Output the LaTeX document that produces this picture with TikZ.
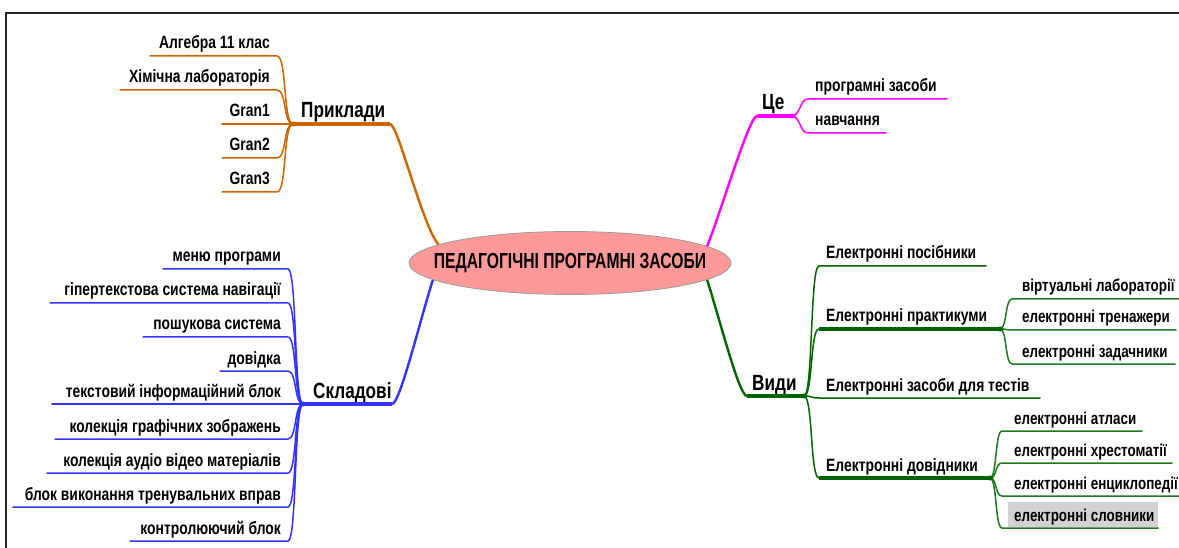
\documentclass[tikz,border=0pt]{standalone}
\usepackage{fontspec}
\setmainfont{Liberation Sans}
\newfontfamily\condf[FakeStretch=0.78]{Liberation Sans}
\newfontfamily\condc[FakeStretch=0.72]{Liberation Sans}
\usetikzlibrary{shapes.geometric}
\newcommand\leaffont{\condf\bfseries\fontsize{17.8}{20}\selectfont}
\newcommand\subleaffont{\condf\bfseries\fontsize{17.2}{20}\selectfont}
\newcommand\hubfont{\condf\bfseries\fontsize{22}{24}\selectfont}
\newcommand\centrefont{\condc\bfseries\fontsize{21.8}{24}\selectfont}
\definecolor{corange}{RGB}{204,102,0}
\definecolor{cblue}{RGB}{51,51,255}
\definecolor{cmag}{RGB}{255,0,255}
\definecolor{cgreen}{RGB}{0,100,0}
\definecolor{cgreenl}{RGB}{30,120,30}
\definecolor{cpink}{RGB}{255,153,153}
\definecolor{cgraybox}{RGB}{210,210,210}
\begin{document}
\begin{tikzpicture}[x=1pt,y=-1pt,
  leaf/.style={inner sep=0pt, font=\leaffont, text=black},
  subleaf/.style={inner sep=0pt, font=\subleaffont, text=black},
  hubtxt/.style={inner sep=0pt, font=\hubfont, text=black},
  leafline/.style={line width=1.5pt, line cap=round},
  hubline/.style={line width=3.2pt},
  mainline/.style={line width=2.4pt},
  hubdot/.style={inner sep=0pt, minimum width=7pt, minimum height=5pt, shape=ellipse, fill=#1}
]
\useasboundingbox (0,0) rectangle (1179,548);
% frame
\draw[line width=2pt, black!85] (6,548) -- (6,13) -- (1179,13);

% centre
\node[ellipse, draw=gray!80, line width=0.8pt, fill=cpink, minimum width=322pt, minimum height=63pt, inner xsep=-30pt, inner ysep=0pt, font=\centrefont] (c) at (570,263) {ПЕДАГОГІЧНІ ПРОГРАМНІ ЗАСОБИ};

% ---------------- Приклади (orange)
\coordinate (ohub) at (293,124);
\coordinate (oend) at (390,124);
\node[hubtxt, anchor=base west] (ot) at (301,118) {Приклади};
\draw[corange, hubline] (ohub) -- (oend);
\draw[corange, mainline] (oend) .. controls (398,124) and (422,225) .. (c.172);
\foreach \t/\y/\xs [count=\i] in {Алгебра 11 клас/56/150, Хімічна лабораторія/90/120, Gran1/124/222, Gran2/158/222, Gran3/192/222} {
  \node[leaf, anchor=base east] (o\i) at (270,\y-7) {\t};
  \coordinate (os\i) at (\xs,\y);
  \coordinate (oe\i) at (277,\y);
  \draw[corange, leafline] (os\i) -- (oe\i) .. controls +(10,0) and +(-10,0) .. (ohub);
}
\node[hubdot=corange] (od) at (ohub) {};

% ---------------- Складові (blue)
\coordinate (bhub) at (303,404);
\coordinate (bend) at (392,404);
\node[hubtxt, anchor=base west] (bt) at (313,398) {Складові};
\draw[cblue, hubline] (bhub) -- (bend);
\draw[cblue, mainline] (bend) .. controls (400,404) and (420,320) .. (c.187);
\foreach \t/\y/\xs [count=\i] in {меню програми/269/163, гіпертекстова система навігації/303/50, пошукова система/337/143, довідка/371/220, текстовий інформаційний блок/404/52, колекція графічних зображень/439/55, колекція аудіо відео матеріалів/473/47, блок виконання тренувальних вправ/507/13, контролюючий блок/541/130} {
  \node[leaf, anchor=base east] (b\i) at (281,\y-7) {\t};
  \coordinate (bs\i) at (\xs,\y);
  \coordinate (be\i) at (288,\y);
  \draw[cblue, leafline] (bs\i) -- (be\i) .. controls +(9,0) and +(-9,0) .. (bhub);
}
\node[hubdot=cblue] (bd) at (bhub) {};

% ---------------- Це (magenta)
\coordinate (mhub) at (792,116);
\coordinate (mend) at (757,116);
\node[hubtxt, anchor=base west] (mt) at (762,110) {Це};
\draw[cmag, hubline] (mend) -- (mhub);
\draw[cmag, mainline] (mend) .. controls (749,116) and (720,215) .. (c.7);
\foreach \t/\y/\xe [count=\i] in {програмні засоби/99/947, навчання/133/886} {
  \node[leaf, anchor=base west] (m\i) at (815,\y-7) {\t};
  \coordinate (ms\i) at (808,\y);
  \coordinate (me\i) at (\xe,\y);
  \draw[cmag, leafline] (mhub) .. controls +(8,0) and +(-8,0) .. (ms\i) -- (me\i);
}
\node[hubdot=cmag] (md) at (mhub) {};

% ---------------- Види (green)
\coordinate (ghub) at (804,396);
\coordinate (gend) at (747,396);
\node[hubtxt, anchor=base west] (gt) at (752,390) {Види};
\draw[cgreen, hubline] (gend) -- (ghub);
\draw[cgreen, mainline] (gend) .. controls (739,396) and (720,320) .. (c.-7);
% level 1 children
\node[leaf, anchor=base west] (g1) at (826,259) {Електронні посібники};
\node[leaf, anchor=base west] (g2) at (826,322) {Електронні практикуми};
\node[leaf, anchor=base west] (g3) at (826,391) {Електронні засоби для тестів};
\node[leaf, anchor=base west] (g4) at (826,471) {Електронні довідники};
\coordinate (gs1) at (819,266); \coordinate (ge1) at (986,266);
\coordinate (gs2) at (819,329); \coordinate (ph) at (1000,329);
\coordinate (gs3) at (819,398); \coordinate (ge3) at (1040,398);
\coordinate (gs4) at (819,478); \coordinate (dh) at (990,478);
\draw[cgreen, leafline] (ghub) .. controls +(9,0) and +(-9,0) .. (gs1) -- (ge1);
\draw[cgreen, leafline] (ghub) .. controls +(9,0) and +(-9,0) .. (gs2);
\draw[cgreen, hubline] (gs2) -- (ph);
\draw[cgreen, leafline] (ghub) .. controls +(9,0) and +(-9,0) .. (gs3) -- (ge3);
\draw[cgreen, leafline] (ghub) .. controls +(9,0) and +(-9,0) .. (gs4);
\draw[cgreen, hubline] (gs4) -- (dh);
\node[hubdot=cgreen] (gd) at (ghub) {};
% практикуми children
\foreach \t/\y/\xe [count=\i] in {віртуальні лабораторії/299/1179, електронні тренажери/330/1176, електронні задачники/364/1175} {
  \node[subleaf, anchor=base west] (p\i) at (1022,\y-7) {\t};
  \coordinate (ps\i) at (1012,\y);
  \coordinate (pe\i) at (\xe,\y);
  \draw[cgreenl, leafline] (ph) .. controls +(7,0) and +(-7,0) .. (ps\i) -- (pe\i);
}
\node[hubdot=cgreen] (pd) at (ph) {};
% довідники children
\fill[cgraybox] (1008,502) rectangle (1158,527);
\foreach \t/\y/\xe [count=\i] in {електронні атласи/431/1142, електронні хрестоматії/463/1172, електронні енциклопедії/496/1179, електронні словники/528/1158} {
  \node[subleaf, anchor=base west] (d\i) at (1014,\y-7) {\t};
  \coordinate (ds\i) at (1002,\y);
  \coordinate (de\i) at (\xe,\y);
  \draw[cgreenl, leafline] (dh) .. controls +(7,0) and +(-7,0) .. (ds\i) -- (de\i);
}
\node[hubdot=cgreen] (dd) at (dh) {};
\end{tikzpicture}
\end{document}
